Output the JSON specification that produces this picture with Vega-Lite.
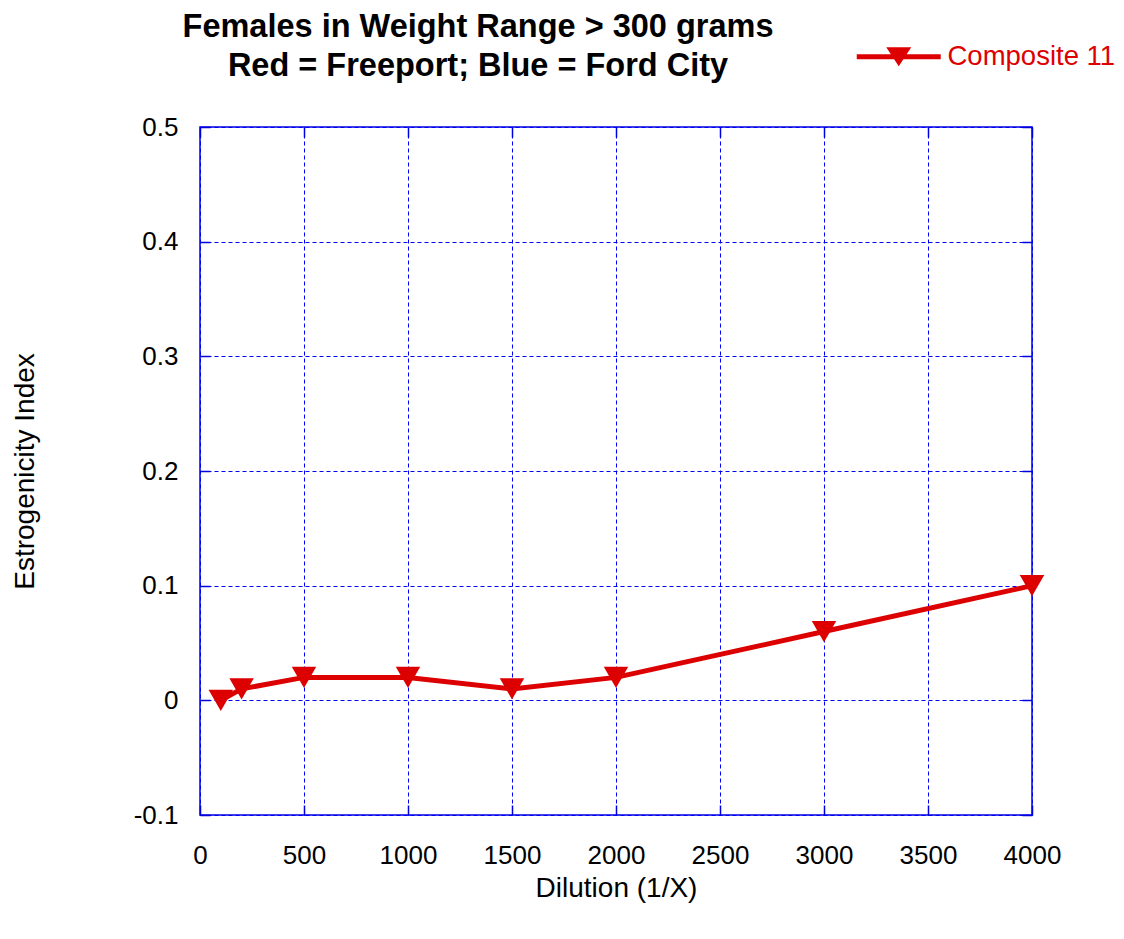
{
  "$schema": "https://vega.github.io/schema/vega-lite/v6.json",
  "width": 832,
  "height": 688,
  "autosize": "none",
  "padding": {"left": 200, "top": 127, "right": 92, "bottom": 124},
  "background": "white",
  "config": {
    "view": {"stroke": "#0000e0", "strokeWidth": 1.5},
    "font": "Liberation Sans"
  },
  "title": {
    "text": ["Females in Weight Range > 300 grams", "Red = Freeport; Blue = Ford City"],
    "font": "Liberation Sans",
    "fontSize": 32.5,
    "fontWeight": "bold",
    "color": "black",
    "anchor": "middle",
    "frame": "group",
    "dx": -138,
    "dy": 79,
    "lineHeight": 39,
    "offset": 40
  },
  "data": {
    "values": [
      {"dilution": 100, "index": 0.0, "series": "Composite 11"},
      {"dilution": 200, "index": 0.01, "series": "Composite 11"},
      {"dilution": 500, "index": 0.02, "series": "Composite 11"},
      {"dilution": 1000, "index": 0.02, "series": "Composite 11"},
      {"dilution": 1500, "index": 0.01, "series": "Composite 11"},
      {"dilution": 2000, "index": 0.02, "series": "Composite 11"},
      {"dilution": 3000, "index": 0.06, "series": "Composite 11"},
      {"dilution": 4000, "index": 0.10, "series": "Composite 11"}
    ]
  },
  "layer": [
    {
      "mark": {"type": "line", "strokeWidth": 5, "clip": false},
      "encoding": {
        "x": {
          "field": "dilution", "type": "quantitative",
          "scale": {"domain": [0, 4000], "nice": false, "zero": false},
          "axis": {
            "orient": "bottom",
            "values": [0, 500, 1000, 1500, 2000, 2500, 3000, 3500, 4000],
            "format": "d", "labelFlush": false, "labelOverlap": false,
            "grid": true, "gridColor": "#0000ff", "gridDash": [4, 3], "gridWidth": 1, "gridOpacity": 1,
            "domain": false,
            "ticks": true, "tickSize": -10, "tickColor": "#0000e0", "tickWidth": 1.5,
            "labelFontSize": 26, "labelColor": "black", "labelPadding": 37, "labelFont": "Liberation Sans",
            "title": "Dilution (1/X)", "titleFontSize": 28, "titleFontWeight": "normal", "titleColor": "black",
            "titleFont": "Liberation Sans", "titleY": 73, "titleBaseline": "middle"
          }
        },
        "y": {
          "field": "index", "type": "quantitative",
          "scale": {"domain": [-0.1, 0.5], "nice": false, "zero": false},
          "axis": {
            "orient": "left",
            "values": [-0.1, 0, 0.1, 0.2, 0.3, 0.4, 0.5],
            "labelExpr": "replace(format(datum.value, '.1~f'), '\u2212', '-')",
            "labelFlush": false, "labelOverlap": false,
            "grid": true, "gridColor": "#0000ff", "gridDash": [4, 3], "gridWidth": 1, "gridOpacity": 1,
            "domain": false,
            "ticks": true, "tickSize": -10, "tickColor": "#0000e0", "tickWidth": 1.5,
            "labelFontSize": 26, "labelColor": "black", "labelPadding": 32, "labelFont": "Liberation Sans",
            "title": "Estrogenicity Index", "titleFontSize": 28, "titleFontWeight": "normal", "titleColor": "black",
            "titleFont": "Liberation Sans", "titleX": -175, "titleY": 344, "titleAngle": -90,
            "titleAlign": "center", "titleBaseline": "middle"
          }
        },
        "color": {
          "field": "series", "type": "nominal",
          "scale": {"range": ["#dd0000"]},
          "legend": {
            "orient": "none", "legendX": 685, "legendY": -84,
            "title": null, "padding": 0,
            "symbolType": "M-3.36,-0.2H3.36V0.2H-3.36Z M1,-0.76L0,0.76L-1,-0.76Z",
            "symbolSize": 625, "symbolFillColor": "#dd0000", "symbolStrokeColor": "#dd0000", "symbolStrokeWidth": 0,
            "labelColor": "#dd0000", "labelFontSize": 27.5, "labelFont": "Liberation Sans", "labelOffset": 35,
            "labelLimit": 400
          }
        }
      }
    },
    {
      "mark": {"type": "point", "shape": "triangle-down", "filled": true, "size": 600, "opacity": 1, "clip": false},
      "encoding": {
        "x": {
          "field": "dilution", "type": "quantitative",
          "axis": {
            "orient": "top",
            "values": [0, 500, 1000, 1500, 2000, 2500, 3000, 3500, 4000],
            "labels": false, "grid": false, "domain": false, "title": null,
            "ticks": true, "tickSize": -10, "tickColor": "#0000e0", "tickWidth": 1.5
          }
        },
        "y": {
          "field": "index", "type": "quantitative",
          "axis": {
            "orient": "right",
            "values": [-0.1, 0, 0.1, 0.2, 0.3, 0.4, 0.5],
            "labels": false, "grid": false, "domain": false, "title": null,
            "ticks": true, "tickSize": -10, "tickColor": "#0000e0", "tickWidth": 1.5
          }
        },
        "color": {"field": "series", "type": "nominal"}
      }
    }
  ],
  "resolve": {"axis": {"x": "independent", "y": "independent"}}
}
